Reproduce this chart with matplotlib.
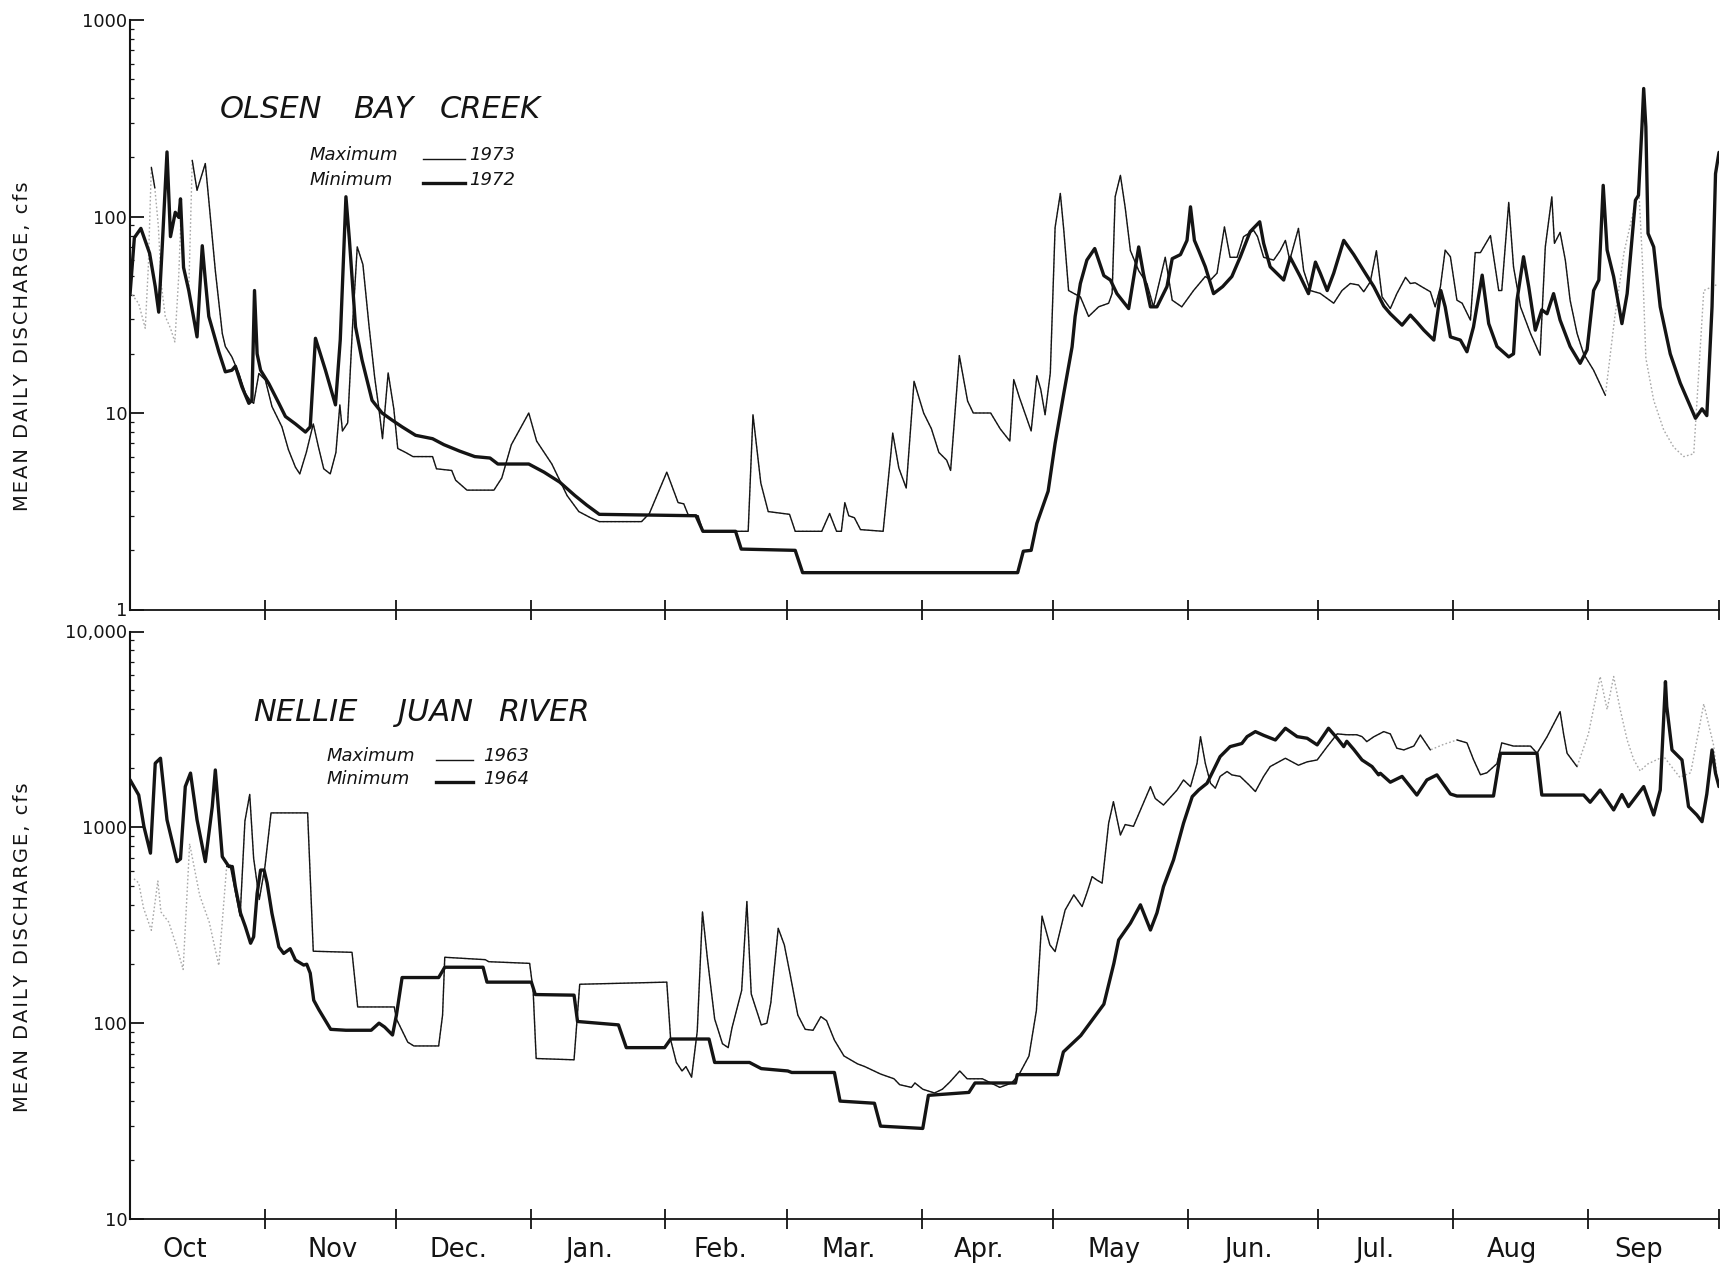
import numpy as np
import matplotlib
matplotlib.use("Agg")
import matplotlib.pyplot as plt
from matplotlib.ticker import LogLocator, NullFormatter
from matplotlib.transforms import blended_transform_factory

# ---------------------------------------------------------------------------
# Mean daily discharge (cfs), water-year day (0 = 1 October)
# ---------------------------------------------------------------------------
OLSEN_MAX_DAY = [0.5, 2.0, 3.5, 4.2, 4.9, 5.7, 6.5, 7.2, 8.1, 9.3, 10.3, 11.2, 11.7, 12.4, 13.5,
                 14.3, 15.4, 17.3, 18.1, 19.6, 21.2, 21.9, 23.4, 25.0, 26.5, 27.6, 28.4, 29.6,
                 31.1, 32.6, 34.9, 36.4, 38.0, 39.0, 40.5, 42.1, 43.3, 44.5, 46.0, 47.3, 48.2,
                 48.8, 50.0, 51.2, 52.2, 53.5, 54.9, 56.2, 57.3, 58.0, 59.3, 60.6, 61.5, 63.3,
                 65.0, 69.5, 70.4, 73.9, 74.8, 77.4, 83.6, 85.4, 87.6, 91.6, 93.4, 96.9, 98.7,
                 100.4, 103.1, 105.8, 107.8, 117.5, 119.3, 123.3, 125.9, 127.2, 128.3, 130.5,
                 131.6, 142.0, 143.1, 144.9, 146.6, 150.1, 151.5, 152.8, 158.9, 160.7, 162.3,
                 163.4, 164.2, 165.1, 166.4, 167.8, 173.0, 174.8, 175.2, 176.6, 178.3, 180.1,
                 182.3, 184.1, 185.8, 187.6, 188.5, 190.5, 192.4, 193.7, 197.7, 199.9, 202.1,
                 203.0, 204.3, 207.0, 208.3, 209.2, 210.2, 211.4, 212.5, 213.7, 214.5, 215.6,
                 216.8, 218.3, 220.2, 222.5, 224.8, 225.6, 226.3, 227.5, 228.6, 229.8, 231.7,
                 233.6, 235.1, 237.8, 239.4, 241.6, 244.3, 247.0, 248.2, 249.7, 251.4, 252.7,
                 254.3, 255.8, 258.1, 259.0, 260.4, 262.7, 264.2, 265.4, 266.4, 268.4, 269.6,
                 271.1, 273.4, 276.5, 278.4, 280.3, 282.2, 283.4, 284.9, 286.3, 287.6, 289.5,
                 291.0, 293.0, 294.1, 295.2, 296.8, 298.7, 299.8, 301.0, 302.1, 303.3, 304.8,
                 306.0, 307.9, 309.0, 310.2, 312.5, 314.4, 315.1, 316.7, 317.8, 319.4, 321.7,
                 323.9, 325.1, 326.6, 327.2, 328.5, 329.7, 330.8, 332.4, 333.9, 336.2, 338.9,
                 341.0, 343.2, 345.5, 346.6, 347.4, 348.2, 350.0, 352.3, 354.6, 356.9, 359.2,
                 361.5, 364.5]
OLSEN_MAX_CFS = [40, 36, 27, 55, 178, 140, 90, 45, 31, 27, 23, 50, 100, 55, 42,
                 193, 136, 186, 121, 53, 25.4, 21.8, 19.3, 15.9, 12.6, 11.6, 11.2, 15.9,
                 14.7, 10.8, 8.5, 6.5, 5.3, 4.9, 6.3, 8.8, 6.7, 5.2, 4.9, 6.3, 11,
                 8.1, 8.9, 30, 70, 57, 27.8, 15.2, 10, 7.4, 16, 10.5, 6.6, 6.3,
                 6.0, 6.0, 5.2, 5.1, 4.55, 4.05, 4.05, 4.67, 6.9, 10, 7.2, 5.5, 4.55,
                 3.8, 3.15, 2.93, 2.8, 2.8, 3.08, 5.0, 3.5, 3.45, 3.0, 3.0,
                 2.5, 2.5, 9.8, 4.4, 3.15, 3.08, 3.05, 2.5, 2.5, 3.08, 2.5,
                 2.5, 3.5, 3.0, 2.93, 2.55, 2.5, 6.3, 7.9, 5.25, 4.15, 14.5,
                 10, 8.3, 6.3, 5.75, 5.1, 19.6, 11.5, 10, 10, 8.3, 7.2,
                 14.8, 12.0, 8.1, 15.5, 13.2, 9.8, 16, 88, 131, 85, 42,
                 40.6, 39, 31, 34.7, 36.2, 40.6, 126, 162, 111, 67, 53,
                 45.6, 34.7, 62, 37.5, 34.7, 42, 49.5, 47.5, 51.5, 88.5, 62,
                 62, 79, 85, 79, 62, 60, 67, 75.6, 60, 87, 53,
                 42, 40.6, 36.2, 42, 45.6, 44.8, 41.4, 46.5, 67, 39, 34,
                 40.5, 49, 45.6, 46, 43.8, 41.4, 34.7, 43.8, 67.4, 62.4, 37.5,
                 36.2, 29.7, 65.5, 65.5, 80, 42, 42, 118, 55.5, 34.7, 25.4,
                 19.7, 70, 126, 73, 83, 60, 37.5, 25.4, 20, 16.5, 12.3,
                 30, 66, 110, 135, 60, 19, 11.6, 8.2, 6.7, 6.0, 6.2,
                 42, 45]

OLSEN_MIN_DAY = [0.0, 1.0, 2.5, 4.5, 5.8, 6.6, 7.4, 8.5, 9.3, 10.4, 11.2, 11.6, 12.3, 13.5, 15.4,
                 16.6, 17.3, 18.1, 20.4, 21.9, 23.4, 24.2, 25.7, 27.3, 28.0, 28.6, 29.2, 30.0,
                 31.9, 34.2, 35.7, 38.0, 40.3, 41.4, 42.6, 44.9, 47.2, 48.3, 49.6, 50.4, 51.8,
                 53.3, 55.6, 57.9, 60.2, 62.5, 65.6, 69.5, 72.1, 75.7, 79.2, 82.7, 84.5, 91.6,
                 95.1, 98.7, 102.2, 104.9, 107.8, 130.0, 131.6, 139.1, 140.4, 152.8, 154.5,
                 203.9, 205.2, 207.0, 208.3, 210.9, 212.5, 214.5, 216.4, 217.1, 218.3, 219.8,
                 221.6, 223.7, 225.2, 226.7, 229.4, 231.7, 232.8, 234.4, 235.9, 238.2, 239.4,
                 241.3, 242.8, 243.6, 244.5, 245.5, 247.0, 248.9, 251.0, 253.1, 255.0, 257.3,
                 259.5, 260.4, 261.9, 265.0, 266.5, 268.8, 270.7, 272.3, 273.4, 275.0, 276.5,
                 278.8, 281.1, 283.4, 285.7, 288.0, 289.5, 292.2, 294.1, 295.6, 297.2, 299.5,
                 301.1, 302.1, 303.3, 305.6, 307.1, 308.6, 310.6, 312.1, 314.0, 316.7, 317.8,
                 318.6, 320.1, 321.3, 322.8, 324.3, 325.5, 327.0, 328.5, 330.8, 333.1, 334.7,
                 336.2, 337.4, 338.4, 339.3, 340.8, 342.7, 343.9, 345.8, 346.5, 347.3, 347.7,
                 348.2, 348.7, 350.0, 351.5, 353.8, 356.1, 359.6, 361.1, 362.2, 363.4, 364.2,
                 365.0]
OLSEN_MIN_CFS = [40, 78, 87, 65, 44, 32.6, 70, 213, 79, 105, 99, 123, 55, 42, 24.4,
                 71, 47.5, 31, 20.5, 16.2, 16.5, 17.3, 13.6, 11.2, 11.6, 42, 20, 16.5,
                 14.1, 11.2, 9.6, 8.8, 8.0, 8.5, 24, 16.5, 11, 23.6, 126, 76, 27.5,
                 18.6, 11.6, 10, 9.2, 8.5, 7.7, 7.4, 6.9, 6.4, 6.0, 5.9, 5.5, 5.5,
                 5.0, 4.45, 3.8, 3.4, 3.05, 3.0, 2.5, 2.5, 2.03, 2.0, 1.54,
                 1.54, 1.98, 2.0, 2.74, 4.0, 7.0, 12.6, 21.7, 31, 45.6, 60,
                 68.7, 50, 47.5, 40.5, 34, 70, 51, 34.7, 34.7, 44, 61,
                 64, 75.6, 112, 75.6, 67, 55.5, 40.5, 44, 49.5, 62, 83.7,
                 94, 73, 55.5, 47.5, 62, 49.5, 40.5, 58.6, 51.5, 42, 51.5,
                 75.6, 64, 53, 44, 35, 32, 28, 31.5, 29, 26.4, 23.5,
                 42, 34.7, 24.4, 23.5, 20.5, 27.4, 50.3, 28.5, 21.8, 19.3, 20,
                 37.5, 62.4, 43.8, 26.4, 33.5, 32, 40.5, 29.7, 21.8, 17.9, 21,
                 42, 47.5, 144, 67.5, 49.4, 28.5, 40.5, 121, 128, 286, 448,
                 286, 82, 70, 34.7, 20, 14.2, 9.4, 10.5, 9.7, 34.7, 165,
                 212]

NELLIE_MAX_DAY = [0.9, 2.0, 3.1, 4.9, 6.4, 7.1, 8.9, 10.6, 12.2, 13.7, 16.0, 18.2, 20.4, 22.2,
                  23.0, 25.3, 26.4, 27.5, 28.4, 29.7, 31.0, 32.4, 40.8, 42.1, 51.0, 52.3, 60.7,
                  61.2, 63.8, 65.2, 70.9, 71.8, 72.3, 81.6, 82.4, 91.8, 92.6, 93.3, 102.0,
                  103.3, 123.3, 124.2, 125.5, 126.8, 127.7, 129.0, 130.3, 131.5, 132.6, 134.3,
                  136.1, 137.4, 138.3, 140.5, 141.7, 142.7, 145.0, 146.3, 147.2, 148.9, 150.3,
                  151.6, 153.4, 155.1, 156.9, 158.7, 160.0, 161.8, 164.0, 167.1, 168.8, 172.4,
                  175.5, 176.8, 179.5, 180.3, 182.1, 184.8, 186.6, 188.3, 190.6, 192.3, 195.8,
                  199.8, 202.5, 204.2, 206.5, 208.2, 209.5, 211.3, 212.5, 214.8, 216.8, 218.7,
                  219.8, 221.0, 222.1, 223.3, 224.8, 225.9, 227.5, 228.6, 230.5, 232.1, 233.2,
                  234.4, 235.5, 237.4, 240.5, 242.0, 243.6, 245.1, 245.9, 247.0, 248.2, 249.3,
                  250.4, 252.0, 253.1, 255.0, 257.0, 258.5, 260.4, 261.9, 265.4, 268.4, 270.4,
                  272.7, 275.0, 277.3, 279.5, 281.8, 283.0, 284.1, 285.7, 288.0, 289.5, 291.0,
                  292.6, 294.9, 296.4, 298.7, 301.7, 304.8, 307.1, 308.6, 310.2, 311.7, 314.0,
                  315.1, 317.8, 321.7, 323.2, 325.5, 328.5, 329.3, 330.1, 332.4, 335.0, 337.7,
                  339.3, 340.8, 342.3, 343.9, 345.4, 346.9, 348.5, 352.3, 356.0, 358.5, 361.5,
                  363.8, 364.8]
NELLIE_MAX_CFS = [546, 520, 388, 298, 532, 370, 328, 251, 188, 824, 450, 328, 197, 631,
                  641, 352, 1077, 1473, 695, 428, 631, 1185, 1185, 233, 230, 121, 121,
                  105, 80, 76.5, 76.5, 110, 217, 211, 206, 202, 147, 66, 65,
                  158, 162, 82, 63, 57, 60, 53, 91, 370, 217, 105,
                  78.5, 75, 95, 147, 418, 141, 98, 100, 127, 305, 251,
                  179, 110, 93, 92, 108, 103, 82, 68, 62, 60, 55,
                  52, 48.5, 47, 49.5, 46, 44, 46, 50, 57, 52, 52,
                  47, 49.5, 54.6, 68, 116, 352, 251, 232, 378, 452, 394,
                  462, 560, 538, 519, 1050, 1352, 914, 1033, 1012, 1227, 1404,
                  1614, 1404, 1300, 1550, 1746, 1614, 2124, 2902, 2124, 1679, 1585,
                  1820, 1928, 1853, 1820, 1650, 1523, 1820, 2043, 2253, 2075, 2160,
                  2208, 2583, 3000, 2970, 2970, 2905, 2740, 2900, 3082, 3000, 2535,
                  2485, 2600, 2960, 2485, 2650, 2794, 2700, 2220, 1855, 1900, 2115,
                  2700, 2600, 2600, 2390, 2900, 3900, 3000, 2390, 2040, 3000, 5890,
                  4000, 5890, 4000, 2794, 2220, 1940, 2100, 2300, 1800, 1900, 4270,
                  2600, 1600]

NELLIE_MIN_DAY = [0.0, 2.0, 3.2, 4.7, 5.8, 7.0, 8.5, 10.8, 11.6, 12.7, 13.9, 15.4, 17.3, 18.9,
                  19.6, 20.4, 21.2, 22.7, 23.5, 24.2, 25.4, 26.5, 27.7, 28.4, 29.2, 30.0, 30.8,
                  31.5, 32.6, 34.2, 35.3, 36.8, 38.0, 39.9, 40.6, 41.4, 42.2, 43.4, 46.1, 49.6,
                  55.4, 57.2, 58.5, 60.3, 61.2, 62.5, 70.9, 72.3, 81.1, 82.0, 92.2, 93.1, 102.0,
                  102.8, 112.2, 114.0, 122.8, 124.2, 133.0, 134.3, 142.3, 145.0, 151.1, 152.0,
                  161.8, 163.1, 171.0, 172.4, 182.1, 183.4, 192.7, 194.1, 203.4, 203.8, 213.1,
                  214.4, 218.4, 223.7, 226.0, 227.1, 229.8, 232.1, 234.4, 235.9, 237.4, 239.7,
                  242.0, 244.0, 245.5, 247.4, 248.9, 250.4, 252.7, 255.4, 256.6, 258.5, 260.4,
                  263.1, 265.4, 268.1, 270.4, 272.7, 275.3, 277.3, 278.8, 279.5, 281.1, 283.0,
                  285.3, 286.8, 287.2, 289.5, 292.2, 295.6, 297.9, 300.2, 303.3, 304.8, 313.2,
                  314.8, 323.2, 324.3, 333.9, 335.4, 337.7, 340.8, 342.7, 344.2, 347.7, 350.0,
                  351.5, 352.7, 353.0, 354.2, 356.5, 358.0, 359.9, 361.1, 362.2, 363.4, 364.2,
                  365.0]
NELLIE_MIN_CFS = [1750, 1462, 1009, 738, 2124, 2254, 1092, 668, 690, 1615, 1892, 1092, 668, 1276,
                  1963, 1174, 708, 631, 631, 498, 364, 311, 256, 276, 460, 605, 605,
                  519, 364, 245, 227, 240, 210, 198, 200, 180, 131, 117, 93, 92,
                  92, 100, 95.5, 87, 110, 171, 171, 193, 193, 162, 162, 140, 139,
                  102, 98, 75, 75, 83, 83, 63, 63, 58.6, 57, 56,
                  56, 40, 39, 29.8, 29, 42.8, 44.3, 49.5, 49.5, 54.6, 54.6,
                  71.3, 86.5, 125, 202, 266, 324, 402, 299, 366, 498, 682,
                  1050, 1435, 1553, 1679, 1964, 2296, 2583, 2680, 2905, 3082, 2950,
                  2793, 3206, 2905, 2850, 2637, 3206, 2850, 2583, 2750, 2500, 2208,
                  2043, 1854, 1888, 1700, 1820, 1462, 1746, 1853, 1480, 1445, 1445,
                  2388, 2388, 1462, 1462, 1343, 1550, 1227, 1470, 1276, 1615, 1157,
                  1550, 5545, 4140, 2484, 2208, 1276, 1157, 1069, 1480, 2484, 1888,
                  1615]

# Stretches where the maximum-year trace is only faintly printed
OLSEN_MAX_FAINT = [(0.0, 4.6), (6.2, 13.9), (307.9, 309.0), (323.9, 325.1), (338.9, 366.0)]
NELLIE_MAX_FAINT = [(0.0, 21.8), (298.7, 304.8), (323.2, 325.5), (332.4, 366.0)]

MONTH_ENDS = [31, 61, 92, 123, 151, 182, 212, 243, 273, 304, 335, 365]
MONTH_NAMES = ["Oct", "Nov", "Dec.", "Jan.", "Feb.", "Mar.", "Apr.", "May",
               "Jun.", "Jul.", "Aug", "Sep"]
MONTH_LABEL_DAY = [12.5, 46.5, 75.5, 105.5, 135.5, 165, 195, 226, 257, 286, 317.5, 346.5]

OLSEN_TICKS = [1, 10, 100, 1000]
OLSEN_TICK_LABELS = ["1", "10", "100", "1000"]
NELLIE_TICKS = [10, 100, 1000, 10000]
NELLIE_TICK_LABELS = ["10", "100", "1000", "10,000"]

# ---------------------------------------------------------------------------
W, H, DPI = 1722, 1266, 100
INK = "#141414"
FAINT = "#a8a8a8"

plt.rcParams["font.family"] = ["DejaVu Sans"]
fig = plt.figure(figsize=(W / DPI, H / DPI), dpi=DPI)
fig.patch.set_facecolor("white")


def px_axes(left, top, right, bottom):
    return fig.add_axes([left / W, 1 - bottom / H, (right - left) / W, (bottom - top) / H])


def style_axis(ax, ylim, ticks, labels):
    ax.set_xlim(0, 365)
    ax.set_yscale("log")
    ax.set_ylim(*ylim)
    for side in ("top", "right"):
        ax.spines[side].set_visible(False)
    ax.spines["left"].set_linewidth(1.5)
    ax.spines["bottom"].set_linewidth(1.3)
    ax.spines["left"].set_color(INK)
    ax.spines["bottom"].set_color(INK)
    ax.set_yticks(ticks)
    ax.set_yticklabels(labels)
    ax.yaxis.set_minor_locator(LogLocator(base=10, subs=np.arange(2, 10)))
    ax.yaxis.set_minor_formatter(NullFormatter())
    ax.tick_params(axis="y", which="major", direction="in", length=10, width=1.3,
                   labelsize=13, pad=2, colors=INK)
    ax.tick_params(axis="y", which="minor", direction="in", length=3, width=0.9, colors=INK)
    ax.set_xticks(MONTH_ENDS)
    ax.set_xticklabels([])
    ax.tick_params(axis="x", which="major", direction="inout", length=14, width=1.3, colors=INK)
    ax.tick_params(axis="x", which="minor", length=0)


def draw_series(ax, days, cfs, lw, faint_spans=()):
    d = np.asarray(days, float)
    v = np.asarray(cfs, float)
    inside = np.zeros(len(d), bool)
    for a, b in faint_spans:
        inside |= (d > a) & (d < b)
    if inside.any():
        ax.plot(d, v, color=FAINT, lw=1.0, ls=(0, (1.2, 1.6)), zorder=2)
    ax.plot(d, np.where(inside, np.nan, v), color=INK, lw=lw,
            solid_joinstyle="round", solid_capstyle="round", zorder=3)


def spaced(text):
    return "\u200a".join(text)


ax_top = px_axes(130, 20, 1719, 609.5)
ax_bot = px_axes(130, 631.5, 1719, 1219)

style_axis(ax_top, (1, 1000), OLSEN_TICKS, OLSEN_TICK_LABELS)
style_axis(ax_bot, (10, 10000), NELLIE_TICKS, NELLIE_TICK_LABELS)

THIN, THICK = 1.0, 2.4
draw_series(ax_top, OLSEN_MAX_DAY, OLSEN_MAX_CFS, THIN, OLSEN_MAX_FAINT)
draw_series(ax_top, OLSEN_MIN_DAY, OLSEN_MIN_CFS, THICK)
draw_series(ax_bot, NELLIE_MAX_DAY, NELLIE_MAX_CFS, THIN, NELLIE_MAX_FAINT)
draw_series(ax_bot, NELLIE_MIN_DAY, NELLIE_MIN_CFS, THICK)

# Month names under the lower panel
tr = blended_transform_factory(ax_bot.transData, fig.transFigure)
for name, day in zip(MONTH_NAMES, MONTH_LABEL_DAY):
    fig.text(day, 1 - 1257 / H, name, transform=tr, ha="center", va="baseline",
             fontsize=18.5, color=INK)

# Y-axis titles
for yc in (346, 947):
    fig.text(23 / W, 1 - yc / H, spaced("MEAN DAILY DISCHARGE, cfs"), rotation=90,
             ha="center", va="center", fontsize=14, color=INK)


def fx(x):
    return x / W


def fy(y):
    return 1 - y / H


# Station names, word by word
for word, x in (("OLSEN", 220), ("BAY", 353), ("CREEK", 440)):
    fig.text(fx(x), fy(118), word, fontsize=22, style="italic", ha="left",
             va="baseline", color=INK)
for word, x in (("NELLIE", 253), ("JUAN", 398), ("RIVER", 498)):
    fig.text(fx(x), fy(721), word, fontsize=22, style="italic", ha="left",
             va="baseline", color=INK)

# Key for each panel
KEYS = [
    (310, 160, 185, 423, 465, 469, "1973", "1972"),
    (327, 761, 784, 436, 473, 483, "1963", "1964"),
]
for x_txt, y_max, y_min, x0, x1, x_year, yr_max, yr_min in KEYS:
    fig.text(fx(x_txt), fy(y_max), "Maximum", fontsize=13, style="italic",
             ha="left", va="baseline", color=INK)
    fig.text(fx(x_txt), fy(y_min), "Minimum", fontsize=13, style="italic",
             ha="left", va="baseline", color=INK)
    fig.add_artist(plt.Line2D([fx(x0), fx(x1)], [fy(y_max - 1), fy(y_max - 1)],
                              color=INK, lw=THIN, transform=fig.transFigure))
    fig.add_artist(plt.Line2D([fx(x0), fx(x1)], [fy(y_min - 2), fy(y_min - 2)],
                              color=INK, lw=THICK, transform=fig.transFigure))
    fig.text(fx(x_year), fy(y_max), yr_max, fontsize=13, style="italic",
             ha="left", va="baseline", color=INK)
    fig.text(fx(x_year), fy(y_min), yr_min, fontsize=13, style="italic",
             ha="left", va="baseline", color=INK)

fig.savefig("out.png", dpi=DPI, facecolor="white")
